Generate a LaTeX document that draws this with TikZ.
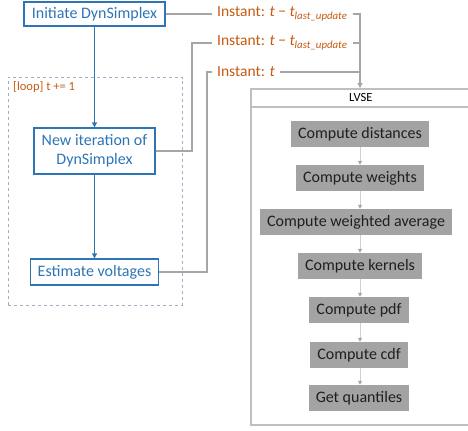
\documentclass[tikz,border=0pt]{standalone}
\usepackage{fontspec}
\setmainfont{Carlito}
\usetikzlibrary{arrows.meta}
\definecolor{oblue}{HTML}{2E75B6}
\definecolor{oorange}{HTML}{C55A11}
\definecolor{lgrey}{HTML}{A6A6A6}
\definecolor{boxgrey}{HTML}{A3A3A3}
\definecolor{lvsegrey}{HTML}{BFBFBF}
\definecolor{stepgrey}{HTML}{D0D0D0}
\definecolor{dashblue}{HTML}{9DB0C8}
\tikzset{
  bluebox/.style={draw=oblue, line width=1.2bp, fill=white, text=oblue,
    font=\fontsize{16bp}{19bp}\selectfont, align=center, inner sep=0pt},
  greybox/.style={fill=boxgrey, text=black!88, font=\fontsize{16bp}{19bp}\selectfont,
    inner xsep=7bp, inner ysep=0pt, minimum height=26bp},
  instant/.style={text=oorange, font=\fontsize{15.5bp}{18bp}\selectfont,
    inner xsep=5bp, inner ysep=0pt, anchor=west},
  smalllbl/.style={font=\fontsize{12.5bp}{14bp}\selectfont, inner sep=0pt},
  link/.style={draw=lgrey, line width=1.2bp},
  bluearrow/.style={draw=oblue, line width=1.2bp, -{Triangle[length=5bp,width=5bp]}},
  greyarrow/.style={draw=lgrey, line width=1.2bp, -{Triangle[length=5bp,width=5bp]}},
  steparrow/.style={draw=stepgrey, line width=1bp, -{Triangle[length=4bp,width=4bp,color=lgrey]}},
  lvsebox/.style={draw=lvsegrey, line width=1.5bp, minimum width=220bp, inner sep=0pt, anchor=north west}
}
\begin{document}
\begin{tikzpicture}[x=1bp,y=-1bp]
\useasboundingbox (0,0) rectangle (468,430);
% loop frame
\node[draw=dashblue, dashed, line width=0.8bp, minimum width=174bp, minimum height=228bp, inner sep=0pt] (loop) at (95,191) {};
\node[smalllbl, text=oorange, anchor=west] (looplbl) at (13,87) {[loop] t += 1};
% blue boxes
\node[bluebox, minimum width=141bp, minimum height=24bp] (init) at (94.5,14) {Initiate DynSimplex};
\node[bluebox, minimum width=121bp, minimum height=46bp] (iter) at (94.5,151) {New iteration of\\DynSimplex};
\node[bluebox, minimum width=128bp, minimum height=26bp] (est) at (94.5,272) {Estimate voltages};
\draw[bluearrow] (init.south) -- (iter.north);
\draw[bluearrow] (iter.south) -- (est.north);
% instants
\node[instant] (t1) at (212,14) {Instant: \textit{t} − \textit{t}\textsubscript{\textit{last\_update}}};
\node[instant] (t2) at (212,43) {Instant: \textit{t} − \textit{t}\textsubscript{\textit{last\_update}}};
\node[instant] (t3) at (212,72) {Instant: \textit{t}};
% LVSE
\node[lvsebox, minimum height=336bp] (lvsebody) at (250,88) {};
\node[lvsebox, minimum height=18bp, smalllbl, text=black] (lvse) at (250,88) {LVSE};
% steps
\node[greybox] (s1) at (360,134) {Compute distances};
\node[greybox] (s2) at (360,178) {Compute weights};
\node[greybox] (s3) at (356,222) {Compute weighted average};
\node[greybox] (s4) at (360,266) {Compute kernels};
\node[greybox] (s5) at (359,310) {Compute pdf};
\node[greybox] (s6) at (359,355) {Compute cdf};
\node[greybox] (s7) at (359,398) {Get quantiles};
\foreach \a/\b in {s1/s2,s2/s3,s3/s4,s4/s5,s5/s6,s6/s7}
  \draw[steparrow] (\a.south -| 360,0) -- (\b.north -| 360,0);
% connectors
\coordinate (j1) at (360,14);
\coordinate (k2) at (192,43);
\coordinate (k3) at (207,72);
\draw[link] (init.east) -- (t1.west);
\draw[greyarrow] (t1.east) -- (j1) -- (j1 |- lvse.north);
\draw[link] (t2.east) -- (t2.east -| j1);
\draw[link] (t3.east) -- (t3.east -| j1);
\draw[link] (iter.east) -| (k2) -- (t2.west);
\draw[link] (est.east) -| (k3) -- (t3.west);
\end{tikzpicture}
\end{document}
